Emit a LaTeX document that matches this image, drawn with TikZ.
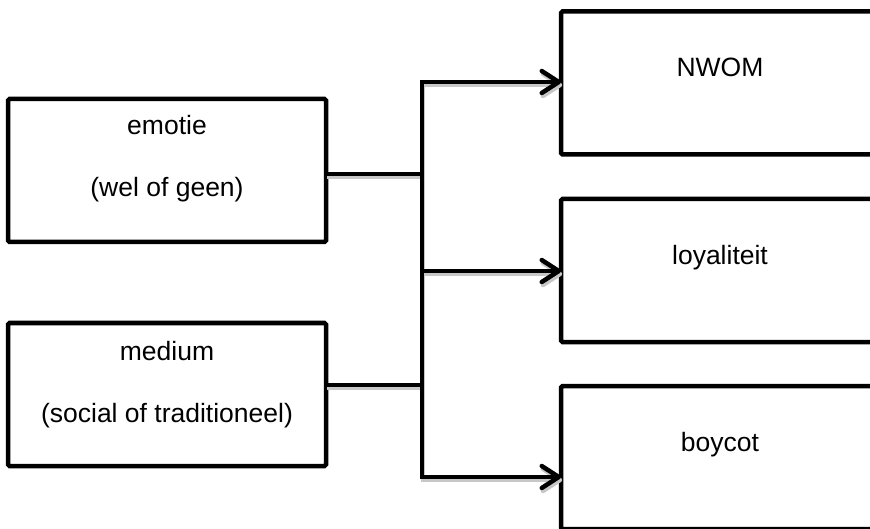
\documentclass[tikz,border=0pt]{standalone}
\usepackage{fontspec}
\setmainfont{Liberation Sans}
\usetikzlibrary{arrows.meta}
\begin{document}
\begin{tikzpicture}[x=1pt,y=-1pt,
  box/.style={draw=black,line width=4.5pt,rounded corners=1.5pt,minimum width=318pt,minimum height=143pt,inner sep=0pt,outer sep=0pt},
  lbl/.style={anchor=base,inner sep=0pt,font=\fontsize{26.5}{31}\selectfont},
  shade/.style={preaction={draw=black!22,line width=4.5pt,transform canvas={shift={(1.2pt,-3pt)}}}},
  conn/.style={line width=4.5pt,line join=miter,shade},
  arr/.style={conn,-{Straight Barb[length=17pt,width=22pt,line width=4.5pt,line cap=round,line join=round]}}]
\useasboundingbox (0,0) rectangle (870,529);
\clip (0,0) rectangle (870,529);
\fill[white] (0,0) rectangle (870,529);
% boxes
\node[box] (emotie) at (167,170.5) {};
\node[box] (medium) at (167,394.5) {};
\node[box] (nwom) at (720,83) {};
\node[box] (loyal) at (720,270.5) {};
\node[box] (boycot) at (720,457.5) {};
% labels
\node[lbl] (t1) at (167,135) {emotie};
\node[lbl] (t2) at (167,197) {(wel of geen)};
\node[lbl] (t3) at (167,360) {medium};
\node[lbl] (t4) at (167,422) {(social of traditioneel)};
\node[lbl] (t5) at (720,77) {NWOM};
\node[lbl] (t6) at (720,265) {loyaliteit};
\node[lbl] (t7) at (720,451) {boycot};
% junction points
\coordinate (jt) at (422,82);
\coordinate (je) at (422,174);
\coordinate (jmid) at (422,271);
\coordinate (jm) at (422,385);
\coordinate (jb) at (422,477);
% connectors
\draw[conn] (emotie.east |- je) -- (je);
\draw[conn] (medium.east |- jm) -- (jm);
\draw[arr] (jmid) -- (jt) -- (nwom.west |- jt);
\draw[arr] (jmid) -- (loyal.west |- jmid);
\draw[arr] (jmid) -- (jb) -- (boycot.west |- jb);
\end{tikzpicture}
\end{document}
